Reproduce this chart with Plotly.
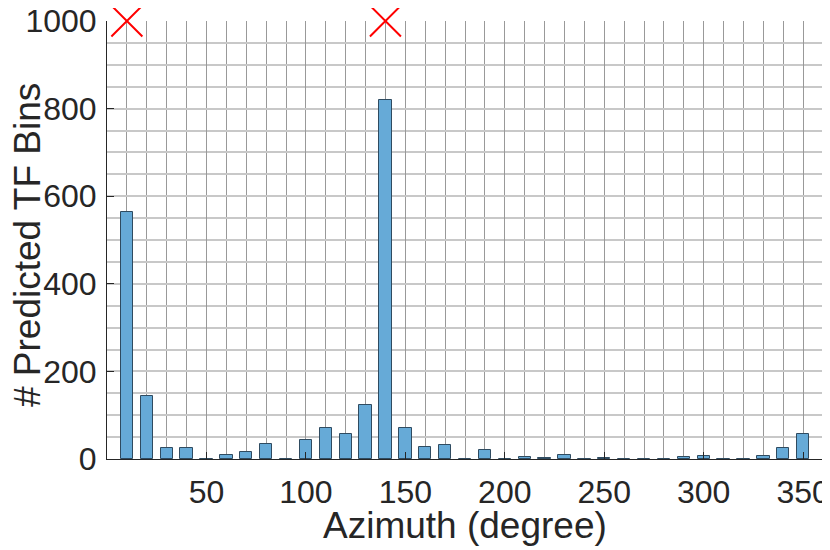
import plotly.graph_objects as go

# histogram of predicted TF bins per azimuth bin (10 degree spacing)
azimuths = [10, 20, 30, 40, 50, 60, 70, 80, 90, 100, 110, 120, 130, 140, 150, 160, 170, 180,
            190, 200, 210, 220, 230, 240, 250, 260, 270, 280, 290, 300, 310, 320, 330, 340, 350]
counts = [563, 143, 26, 24, 0, 10, 17, 34, 0, 44, 71, 56, 123, 819, 71, 28, 33, 0,
          21, 1, 4, 2, 10, 1, 2, 0, 0, 0, 4, 7, 1, 1, 6, 26, 58]

# true source directions, drawn as red crosses on the top edge
source_azimuths = [10, 140]
source_marks = [1000, 1000]

x_ticks = [50, 100, 150, 200, 250, 300, 350]
y_ticks = [0, 200, 400, 600, 800, 1000]

_FONT = "Liberation Sans, Arial, sans-serif"
_TEXT = "#262626"

fig = go.Figure()
fig.add_trace(go.Bar(
    x=azimuths, y=counts, width=6.2,
    marker={"color": "#66aad7", "line": {"color": "#2f4b60", "width": 1}},
    showlegend=False,
))
fig.add_trace(go.Scatter(
    x=source_azimuths, y=source_marks, mode="markers",
    marker={"symbol": "x-thin", "size": 31, "line": {"width": 2, "color": "#ff0000"}, "color": "#ff0000"},
    cliponaxis=False, showlegend=False,
))

# the page body has an 8px margin, so the figure is sized 8px smaller
fig.update_layout(
    width=822, height=542,
    margin={"l": 99, "r": 7, "t": 13, "b": 91},
    paper_bgcolor="white", plot_bgcolor="white",
    font={"family": _FONT, "color": _TEXT},
    bargap=0,
    xaxis={
        "range": [0, 360],
        "automargin": False,
        "tickmode": "array", "tickvals": x_ticks,
        "tickfont": {"size": 32, "color": _TEXT},
        "ticks": "inside", "ticklen": 7, "tickcolor": _TEXT,
        "ticklabelstandoff": 5,
        "ticklabeloverflow": "allow",
        "showline": True, "linecolor": _TEXT, "linewidth": 1,
        "showgrid": True, "gridcolor": "#999999", "gridwidth": 1,
        "minor": {"tickmode": "linear", "tick0": 0, "dtick": 10, "showgrid": True,
                  "gridcolor": "#999999", "gridwidth": 1, "ticks": ""},
        "zeroline": False,
    },
    yaxis={
        "range": [0, 1000],
        "automargin": False,
        "tickmode": "array", "tickvals": y_ticks,
        "tickfont": {"size": 32, "color": _TEXT},
        "ticks": "inside", "ticklen": 7, "tickcolor": _TEXT,
        "ticklabelstandoff": 3,
        "ticklabeloverflow": "allow",
        "showline": True, "linecolor": _TEXT, "linewidth": 1,
        "showgrid": True, "gridcolor": "#c8c8c8", "gridwidth": 1.5,
        "minor": {"tickmode": "linear", "tick0": 0, "dtick": 50, "showgrid": True,
                  "gridcolor": "#c8c8c8", "gridwidth": 1.5, "ticks": ""},
        "zeroline": False,
    },
)

fig.add_annotation(
    text="Azimuth (degree)", xref="paper", yref="paper", x=0.5, y=0,
    xanchor="center", yanchor="middle", yshift=-66, showarrow=False,
    font={"size": 37, "color": _TEXT},
)
fig.add_annotation(
    text="# Predicted TF Bins", xref="paper", yref="paper", x=0, y=0.5,
    xanchor="center", yanchor="middle", xshift=-80, yshift=-5, textangle=-90,
    showarrow=False, font={"size": 37, "color": _TEXT},
)

fig.write_html("out.html")
